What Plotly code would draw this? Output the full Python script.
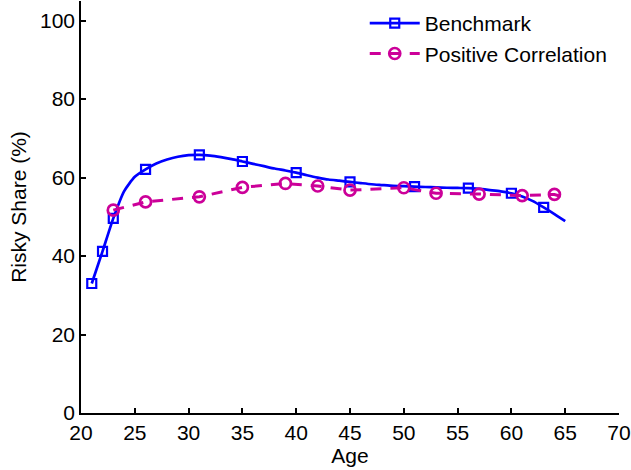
import plotly.graph_objects as go

# Benchmark risky share by age (solid curve)
bench_age = list(range(21, 66))
bench_share = [33.0, 41.2, 49.6, 56.5, 60.2, 62.1, 63.6, 64.6, 65.3, 65.7,
               65.8, 65.6, 65.2, 64.7, 64.1, 63.5, 62.9, 62.3, 61.8, 61.25,
               60.6, 60.0, 59.5, 59.2, 58.9, 58.6, 58.3, 58.1, 57.9, 57.8,
               57.7, 57.6, 57.5, 57.4, 57.35, 57.3, 57.1, 56.8, 56.5, 56.0,
               55.2, 54.0, 52.4, 50.7, 48.9]
# Ages at which the benchmark curve carries a marker
bench_marker_age = [21, 22, 23, 26, 31, 35, 40, 45, 51, 56, 60, 63]

# Positive-correlation risky share (dashed curve)
pos_age = [23, 26, 31, 35, 39, 42, 45, 50, 53, 57, 61, 64, 65]
pos_share = [51.7, 53.8, 55.1, 57.5, 58.5, 57.85, 56.8, 57.4, 56.0, 55.8, 55.4, 55.7, 54.9]
pos_marker_age = [23, 26, 31, 35, 39, 42, 45, 50, 53, 57, 61, 64]

x_ticks = [20, 25, 30, 35, 40, 45, 50, 55, 60, 65, 70]
y_ticks = [0, 20, 40, 60, 80, 100]

BLUE = "rgb(0,0,255)"
MAGENTA = "rgb(204,0,153)"
FONT = "Liberation Sans, Arial, sans-serif"
FS = 21
DASH = "11px,9px"

bm_y = [bench_share[bench_age.index(a)] for a in bench_marker_age]
pm_y = [pos_share[pos_age.index(a)] for a in pos_marker_age]

fig = go.Figure()
fig.add_trace(go.Scatter(x=bench_age, y=bench_share, mode="lines",
                         line=dict(color=BLUE, width=2.7, shape="spline", smoothing=0.6),
                         showlegend=False, hoverinfo="skip"))
fig.add_trace(go.Scatter(x=bench_marker_age, y=bm_y, mode="markers",
                         marker=dict(symbol="square-open", size=9, color=BLUE,
                                     line=dict(width=2.2, color=BLUE)),
                         showlegend=False))
fig.add_trace(go.Scatter(x=pos_age, y=pos_share, mode="lines",
                         line=dict(color=MAGENTA, width=3, dash=DASH),
                         showlegend=False, hoverinfo="skip"))
fig.add_trace(go.Scatter(x=pos_marker_age, y=pm_y, mode="markers",
                         marker=dict(symbol="circle-open", size=11, color=MAGENTA,
                                     line=dict(width=2.7, color=MAGENTA)),
                         showlegend=False))

# Legend entries
fig.add_trace(go.Scatter(x=[None], y=[None], mode="lines+markers", name="Benchmark",
                         line=dict(color=BLUE, width=2.7),
                         marker=dict(symbol="square-open", size=9, color=BLUE,
                                     line=dict(width=2.2, color=BLUE))))
fig.add_trace(go.Scatter(x=[None], y=[None], mode="lines+markers", name="Positive Correlation",
                         line=dict(color=MAGENTA, width=3, dash=DASH),
                         marker=dict(symbol="circle-open", size=11, color=MAGENTA,
                                     line=dict(width=2.7, color=MAGENTA))))

fig.update_layout(
    width=631, height=470,
    margin=dict(l=81, r=12, t=1, b=57, pad=0),
    paper_bgcolor="white", plot_bgcolor="white",
    font=dict(family=FONT, size=FS, color="black"),
    showlegend=True,
    legend=dict(x=0.5274, y=0.995, xanchor="left", yanchor="top",
                bgcolor="rgba(0,0,0,0)", font=dict(size=FS, family=FONT),
                itemwidth=50, tracegroupgap=0),
    xaxis=dict(range=[20, 70], tickvals=x_ticks, ticks="inside", ticklen=5,
               tickcolor="black", tickwidth=1.5, showline=True, linecolor="black",
               linewidth=1.5, showgrid=False, zeroline=False,
               title=dict(text="Age", standoff=1, font=dict(size=FS)),
               tickfont=dict(size=FS)),
    yaxis=dict(range=[0, 105], tickvals=y_ticks, ticks="inside", ticklen=5,
               tickcolor="black", tickwidth=1.5, showline=True, linecolor="black",
               linewidth=1.5, showgrid=False, zeroline=False,
               title=dict(text="Risky Share (%)", standoff=8, font=dict(size=FS)),
               tickfont=dict(size=FS)),
)

fig.write_html("out.html")
